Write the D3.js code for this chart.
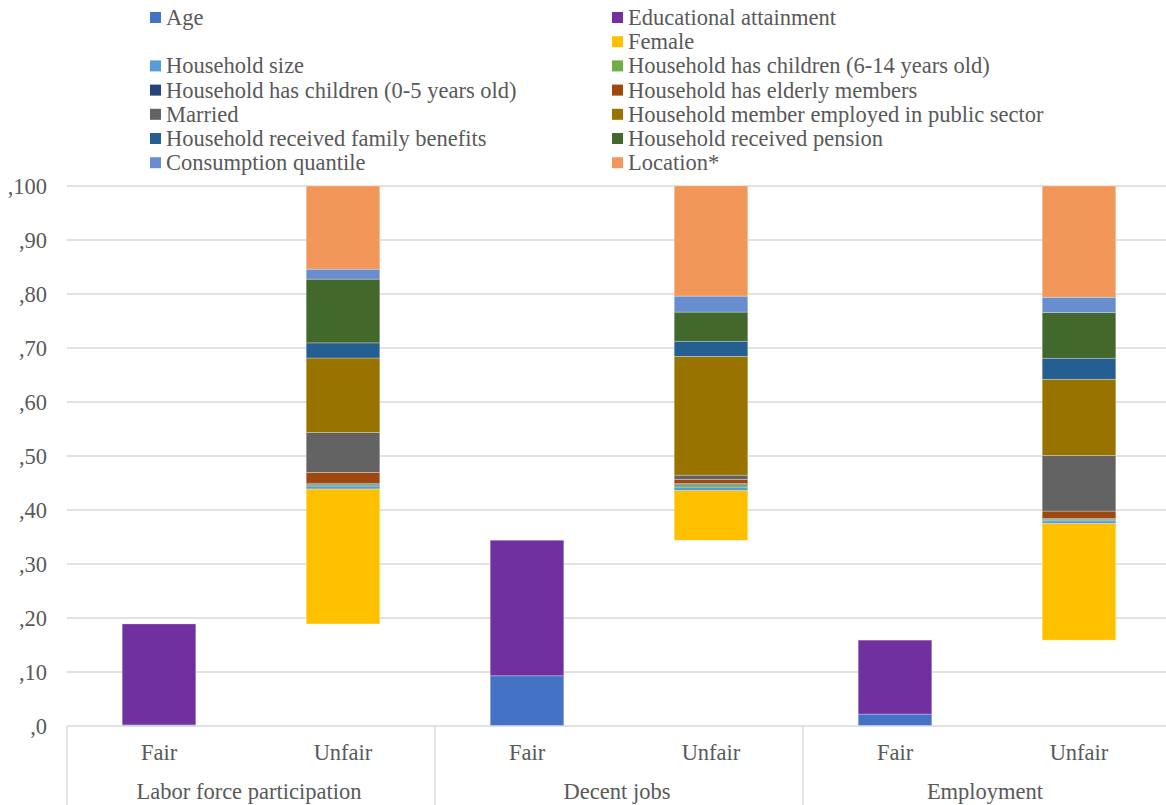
<!DOCTYPE html>
<html>
<head>
<meta charset="utf-8">
<script src="https://cdn.jsdelivr.net/npm/d3@7"></script>
<style>
  html, body { margin: 0; padding: 0; background: #fff; }
  svg { display: block; }
  text { font-family: "Liberation Serif", "Times New Roman", serif; fill: #595959; }
</style>
</head>
<body>
<svg id="chart" width="1166" height="805"></svg>
<script>
// Groups and sub-categories along the x axis
const groups = ["Labor force participation", "Decent jobs", "Employment"];
const subgroups = ["Fair", "Unfair"];

// One value per bar: LFP Fair, LFP Unfair, Decent Fair, Decent Unfair, Emp Fair, Emp Unfair
const age            = [0.2, 0,    9.3, 0,    2.2, 0];
const education      = [18.7, 0,   25.1, 0,   13.7, 0];
const offset         = [0, 18.9,   0, 34.4,   0, 15.9];   // unfilled base of the Unfair bars
const female         = [0, 25.0,   0, 9.2,    0, 21.6];
const householdSize  = [0, 0.55,   0, 0.65,   0, 0.5];
const children614    = [0, 0.25,   0, 0.45,   0, 0.25];
const children05     = [0, 0.25,   0, 0.2,    0, 0.2];
const elderly        = [0, 2.0,    0, 0.75,   0, 1.35];
const married        = [0, 7.4,    0, 0.8,    0, 10.3];
const publicSector   = [0, 13.8,   0, 22.0,   0, 14.1];
const familyBenefits = [0, 2.8,    0, 2.8,    0, 3.9];
const pension        = [0, 11.8,   0, 5.4,    0, 8.45];
const consumption    = [0, 1.85,   0, 2.96,   0, 2.85];
const locationShare  = [0, 15.4,   0, 20.4,   0, 20.6];

const yTicks = [0, 10, 20, 30, 40, 50, 60, 70, 80, 90, 100];

// Series in stacking order (bottom to top)
const series = [
  { key: "age",   name: "Age", values: age, color: "#4472C4" },
  { key: "edu",   name: "Educational attainment", values: education, color: "#7030A0" },
  { key: "off",   name: "", values: offset, color: "none" },
  { key: "fem",   name: "Female", values: female, color: "#FFC000" },
  { key: "size",  name: "Household size", values: householdSize, color: "#5B9BD5" },
  { key: "c614",  name: "Household has children (6-14 years old)", values: children614, color: "#70AD47" },
  { key: "c05",   name: "Household has children (0-5 years old)", values: children05, color: "#264478" },
  { key: "eld",   name: "Household has elderly members", values: elderly, color: "#9E480E" },
  { key: "mar",   name: "Married", values: married, color: "#636363" },
  { key: "pub",   name: "Household member employed in public sector", values: publicSector, color: "#997300" },
  { key: "fam",   name: "Household received family benefits", values: familyBenefits, color: "#255E91" },
  { key: "pen",   name: "Household received pension", values: pension, color: "#43682B" },
  { key: "cons",  name: "Consumption quantile", values: consumption, color: "#698ED0" },
  { key: "loc",   name: "Location*", values: locationShare, color: "#F1975A" }
];

const FONT_SIZE = "22.5px";

// Flat table of bars for d3.stack
const rows = [];
groups.forEach((g, gi) => subgroups.forEach((s, si) => {
  const idx = gi * subgroups.length + si;
  const row = { group: g, sub: s };
  series.forEach(d => { row[d.key] = d.values[idx]; });
  rows.push(row);
}));

const svg = d3.select("#chart");
const plot = { left: 67, right: 1171, top: 186, bottom: 726 };

const y = d3.scaleLinear().domain([0, 100]).range([plot.bottom, plot.top]);
const x0 = d3.scaleBand().domain(groups).range([plot.left, plot.right]).padding(0);
const x1 = d3.scalePoint().domain(subgroups).range([0, x0.bandwidth()]).padding(0.5);
const barW = x1.step() * 0.4;

// Horizontal gridlines
svg.append("g")
  .selectAll("line")
  .data(yTicks.filter(t => t > 0))
  .join("line")
  .attr("x1", plot.left).attr("x2", 1166)
  .attr("y1", d => y(d)).attr("y2", d => y(d))
  .attr("stroke", "#D9D9D9").attr("stroke-width", 1.3);

// Y axis labels
const yAxis = d3.axisLeft(y).tickValues(yTicks).tickFormat(d => "," + d).tickSize(0).tickPadding(20);
const yG = svg.append("g").attr("transform", `translate(${plot.left},0)`).call(yAxis);
yG.select(".domain").remove();
yG.selectAll("text")
  .style("font-family", '"Liberation Serif", serif')
  .style("font-size", FONT_SIZE)
  .attr("fill", "#595959");

// Stacked bars
const stack = d3.stack().keys(series.map(d => d.key));
const stacked = stack(rows);

svg.append("g")
  .selectAll("g")
  .data(stacked)
  .join("g")
  .attr("fill", (d, i) => series[i].color)
  .selectAll("rect")
  .data(d => d.filter(p => p[1] - p[0] > 0))
  .join("rect")
  .attr("x", d => x0(d.data.group) + x1(d.data.sub) - barW / 2)
  .attr("width", barW)
  .attr("y", d => y(d[1]))
  .attr("height", d => y(d[0]) - y(d[1]))
  .attr("stroke", function() { return d3.select(this.parentNode).attr("fill") === "none" ? "none" : "rgba(255,255,255,0.35)"; })
  .attr("stroke-width", 0.8);

// Category axis: baseline and group dividers
const axisG = svg.append("g");
axisG.append("line")
  .attr("x1", plot.left).attr("x2", 1166)
  .attr("y1", y(0)).attr("y2", y(0))
  .attr("stroke", "#D9D9D9").attr("stroke-width", 1.3);
axisG.selectAll("line.div")
  .data(groups)
  .join("line")
  .attr("class", "div")
  .attr("x1", d => x0(d)).attr("x2", d => x0(d))
  .attr("y1", y(0)).attr("y2", 805)
  .attr("stroke", "#D9D9D9").attr("stroke-width", 1.3);

// Sub-category labels
groups.forEach(g => {
  axisG.selectAll(null)
    .data(subgroups)
    .join("text")
    .attr("x", d => x0(g) + x1(d))
    .attr("y", 760)
    .attr("text-anchor", "middle")
    .style("font-size", FONT_SIZE)
    .text(d => d);
});

// Group labels
axisG.selectAll("text.grp")
  .data(groups)
  .join("text")
  .attr("class", "grp")
  .attr("x", d => x0(d) + x0.bandwidth() / 2 - 2)
  .attr("y", 799)
  .attr("text-anchor", "middle")
  .style("font-size", FONT_SIZE)
  .text(d => d);

// Legend: two columns, row-major order (the unnamed base series keeps its empty slot)
const legendCols = [150, 612];
const legendTop = 18;
const rowH = 24.2;
const legendItems = series.map((d, i) => ({ ...d, col: i % 2, row: Math.floor(i / 2) }));
const leg = svg.append("g")
  .selectAll("g")
  .data(legendItems.filter(d => d.name !== ""))
  .join("g")
  .attr("transform", d => `translate(${legendCols[d.col]},${legendTop + d.row * rowH})`);
leg.append("rect")
  .attr("x", 0).attr("y", -6).attr("width", 11).attr("height", 11)
  .attr("fill", d => d.color);
leg.append("text")
  .attr("x", 16).attr("y", 7)
  .style("font-size", FONT_SIZE)
  .text(d => d.name);
</script>
</body>
</html>
